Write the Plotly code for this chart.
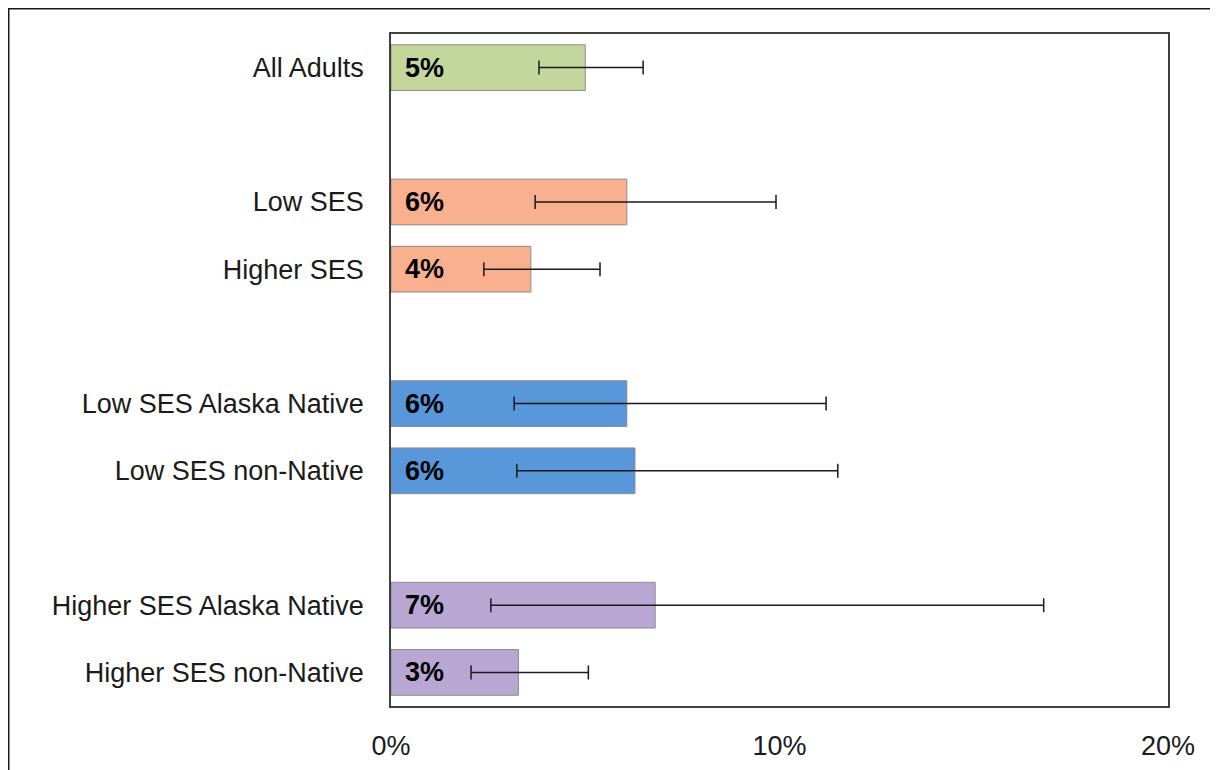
import plotly.graph_objects as go

# groups of bars, separated by an empty slot
groups = [
    ["All Adults"],
    ["Low SES", "Higher SES"],
    ["Low SES Alaska Native", "Low SES non-Native"],
    ["Higher SES Alaska Native", "Higher SES non-Native"],
]
group_colors = ["#C3D69B", "#F9B08E", "#5897D9", "#B9A7D3"]

# percent values
values = [5.0, 6.07, 3.6, 6.07, 6.28, 6.8, 3.28]
ci_low = [3.81, 3.71, 2.39, 3.17, 3.24, 2.57, 2.06]
ci_high = [6.49, 9.91, 5.38, 11.2, 11.5, 16.8, 5.08]
labels = ["5%", "6%", "4%", "6%", "6%", "7%", "3%"]

x_ticks = [0, 10, 20]

cats, pos, colors = [], [], []
slot = 0
for g, grp in enumerate(groups):
    for name in grp:
        cats.append(name)
        pos.append(slot)
        colors.append(group_colors[g])
        slot += 1
    slot += 1

fig = go.Figure()
fig.add_trace(go.Bar(
    x=values, y=pos, orientation="h",
    marker=dict(color=colors, line=dict(color="#8C8C8C", width=1)),
    width=0.68,
    error_x=dict(type="data", symmetric=False,
                 array=[h - v for h, v in zip(ci_high, values)],
                 arrayminus=[v - l for l, v in zip(ci_low, values)],
                 color="#1a1a1a", thickness=1.5, width=7),
    hoverinfo="skip",
))

for p, t in zip(pos, labels):
    fig.add_annotation(x=0, y=p, text="<b>" + t + "</b>", showarrow=False,
                       xanchor="left", xshift=12,
                       font=dict(size=27, color="black", family="Liberation Sans, Arial"))

# outer chart frame (page has an 8px body margin)
ml, mt = 383, 26
fig.add_shape(type="rect", xref="paper", yref="paper",
              x0=(0.75 - ml) / 777, x1=1.2, y0=-0.3, y1=1 + (mt - 0.75) / 672,
              line=dict(color="#1a1a1a", width=1.5), layer="below")

fig.update_layout(
    width=1218, height=770,
    margin=dict(l=ml, r=58, t=mt, b=72),
    plot_bgcolor="white", paper_bgcolor="white",
    showlegend=False,
    font=dict(family="Liberation Sans, Arial", size=27, color="#1a1a1a"),
    xaxis=dict(range=[0, 20], tickvals=x_ticks,
               ticktext=[str(v) + "%" for v in x_ticks],
               showgrid=False, zeroline=False,
               showline=True, mirror=True, linecolor="#404040", linewidth=1.5,
               ticks="", ticklabelstandoff=15),
    yaxis=dict(range=[slot - 1 - 0.5, -0.5], tickvals=pos, ticktext=cats,
               showgrid=False, zeroline=False,
               showline=True, mirror=True, linecolor="#404040", linewidth=1.5,
               ticks="", ticklabelstandoff=20),
)

fig.write_html("out.html")
